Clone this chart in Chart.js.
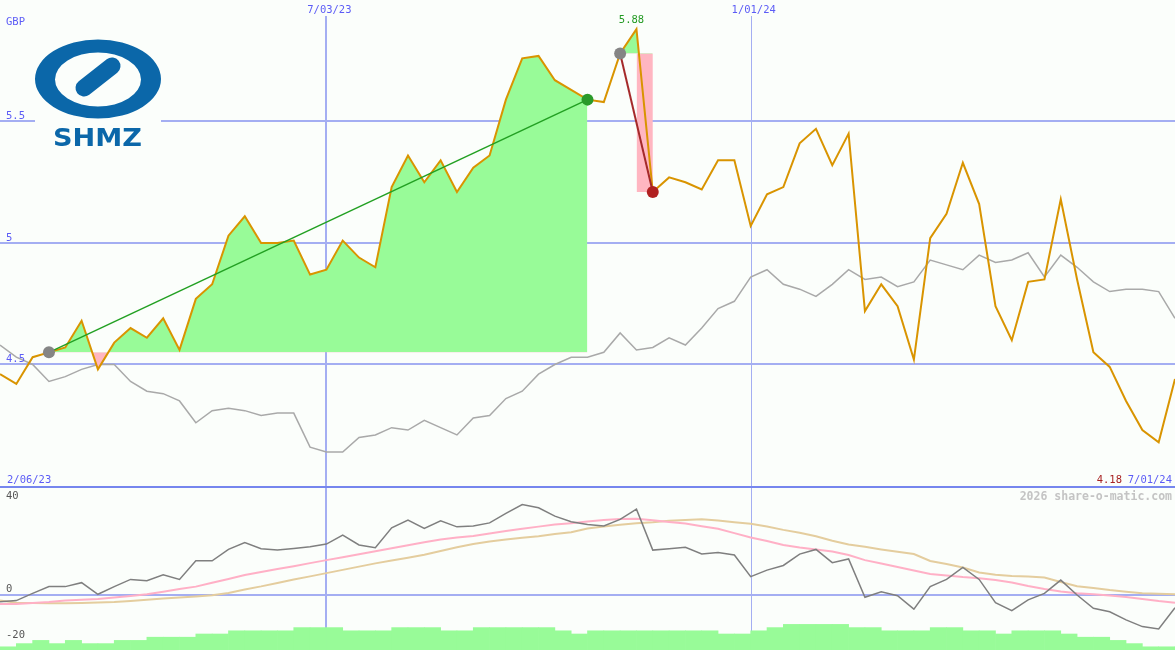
<!DOCTYPE html>
<html>
<head>
<meta charset="utf-8">
<script src="https://cdn.jsdelivr.net/npm/chart.js@4.4.1/dist/chart.umd.min.js"></script>
<style>
  html, body { margin: 0; padding: 0; background: #fbfefb; }
  #wrap { width: 1175px; height: 650px; }
</style>
</head>
<body>
<div id="wrap"><canvas id="myChart" width="1175" height="650"></canvas></div>
<script>
// weekly closes, GBP
const price = [4.46, 4.42, 4.53, 4.55, 4.57, 4.68, 4.48, 4.59, 4.65, 4.61,
	4.69, 4.56, 4.77, 4.83, 5.03, 5.11, 5.00, 5.00, 5.01, 4.87,
	4.89, 5.01, 4.94, 4.90, 5.23, 5.36, 5.25, 5.34, 5.21, 5.31,
	5.36, 5.59, 5.76, 5.77, 5.67, 5.63, 5.59, 5.58, 5.78, 5.88,
	5.21, 5.27, 5.25, 5.22, 5.34, 5.34, 5.07, 5.20, 5.23, 5.41,
	5.47, 5.32, 5.45, 4.72, 4.83, 4.74, 4.52, 5.02, 5.12, 5.33,
	5.16, 4.74, 4.60, 4.84, 4.85, 5.18, 4.85, 4.55, 4.49, 4.35,
	4.23, 4.18, 4.44]

// market relative line (grey)
const relative = [4.58, 4.53, 4.50, 4.43, 4.45, 4.48, 4.50, 4.50, 4.43, 4.39,
	4.38, 4.35, 4.26, 4.31, 4.32, 4.31, 4.29, 4.30, 4.30, 4.16,
	4.14, 4.14, 4.20, 4.21, 4.24, 4.23, 4.27, 4.24, 4.21, 4.28,
	4.29, 4.36, 4.39, 4.46, 4.50, 4.53, 4.53, 4.55, 4.63, 4.56,
	4.57, 4.61, 4.58, 4.65, 4.73, 4.76, 4.86, 4.89, 4.83, 4.81,
	4.78, 4.83, 4.89, 4.85, 4.86, 4.82, 4.84, 4.93, 4.91, 4.89,
	4.95, 4.92, 4.93, 4.96, 4.86, 4.95, 4.90, 4.84, 4.80, 4.81,
	4.81, 4.80, 4.69]

// lower panel
const momentum = [-2.9, -2.4, 0.7, 3.6, 3.6, 5.3, 0.3, 3.6, 6.7, 6.1,
	8.7, 6.7, 14.7, 14.7, 19.6, 22.6, 19.9, 19.3, 20.0, 20.7,
	21.9, 25.8, 21.5, 20.3, 28.9, 32.2, 28.6, 31.9, 29.3, 29.7,
	31.0, 35.1, 38.9, 37.5, 33.9, 31.5, 30.3, 29.7, 32.5, 36.9,
	19.3, 19.9, 20.5, 17.6, 18.3, 17.2, 7.9, 10.7, 12.7, 17.6,
	19.6, 13.9, 15.5, -1.0, 1.4, -0.3, -6.1, 3.6, 6.7, 11.9,
	6.7, -3.3, -6.7, -2.1, 0.7, 6.4, 0.0, -5.7, -7.2, -10.7,
	-13.6, -14.6, -5.5]

const avgFast = [-3.9, -3.9, -3.4, -3.0, -2.4, -2.0, -1.7, -1.1, -0.4, 0.3,
	1.4, 2.6, 3.6, 5.3, 6.9, 8.6, 9.9, 11.2, 12.4, 13.7,
	15.0, 16.2, 17.5, 18.8, 20.1, 21.4, 22.7, 23.9, 24.7, 25.4,
	26.4, 27.5, 28.5, 29.4, 30.3, 30.9, 31.6, 32.2, 32.7, 32.8,
	32.1, 31.4, 30.7, 29.6, 28.5, 26.6, 24.7, 23.2, 21.5, 20.4,
	19.6, 18.7, 17.2, 15.0, 13.5, 12.0, 10.5, 9.0, 8.4, 7.7,
	7.2, 6.4, 5.4, 3.9, 2.6, 1.5, 0.7, 0.3, -0.2, -0.9,
	-1.7, -2.6, -3.3]

const avgSlow = [-2.4, -3.3, -3.4, -3.5, -3.5, -3.4, -3.2, -3.0, -2.6, -2.1,
	-1.5, -1.1, -0.6, -0.1, 0.9, 2.4, 3.7, 5.2, 6.7, 8.0,
	9.4, 10.8, 12.2, 13.6, 14.8, 16.0, 17.3, 18.9, 20.5, 21.9,
	23.0, 23.9, 24.6, 25.3, 26.2, 27.0, 28.6, 29.5, 30.2, 30.9,
	31.3, 31.9, 32.3, 32.6, 32.0, 31.3, 30.6, 29.5, 28.0, 26.8,
	25.3, 23.3, 21.7, 20.7, 19.6, 18.6, 17.6, 14.6, 13.3, 11.8,
	9.7, 8.7, 8.2, 8.0, 7.5, 5.6, 3.8, 3.0, 2.1, 1.4,
	0.7, 0.5, 0.3]

// volume, relative units
const volume = [1, 2, 3, 2, 3, 2, 2, 3, 3, 4,
	4, 4, 5, 5, 6, 6, 6, 6, 7, 7,
	7, 6, 6, 6, 7, 7, 7, 6, 6, 7,
	7, 7, 7, 7, 6, 5, 6, 6, 6, 6,
	6, 6, 6, 6, 5, 5, 6, 7, 8, 8,
	8, 8, 7, 7, 6, 6, 6, 7, 7, 6,
	6, 5, 6, 6, 6, 5, 4, 4, 3, 2,
	1, 1, 1]

const priceTicks = [4.5, 5, 5.5]
const lowerTicks = [40, 0, -20]
const dateTickAt = [20, 46]
const dateTicks = ['7/03/23', '1/01/24']
const firstDate = '2/06/23'
const lastDate = '7/01/24'
const buyAt = [3, 38]
const sellAt = [36, 40]

const bg = '#fbfefb'
const gridBlue = '#a4aef2'
const textBlue = '#5c5cf6'
const logoBlue = '#0b67a9'
const green = '#98fb98'
const pink = '#ffb6c1'
const mono = '"DejaVu Sans Mono", monospace'

const pts = (arr, from = 0) => arr.map((v, i) => ({ x: i + from, y: v }))

function holding(a, b) {
	return pts(price.slice(a, b + 1), a)
}

function drawLogo(ctx) {
	ctx.save()
	ctx.fillStyle = bg
	ctx.fillRect(35, 30, 126, 122)
	ctx.fillStyle = logoBlue
	ctx.beginPath()
	ctx.ellipse(98, 79, 63, 39.5, 0, 0, Math.PI * 2)
	ctx.ellipse(98, 79.5, 43, 27, 0, 0, Math.PI * 2, true)
	ctx.fill('evenodd')
	ctx.strokeStyle = logoBlue
	ctx.lineWidth = 17
	ctx.lineCap = 'round'
	ctx.beginPath()
	ctx.moveTo(84, 88)
	ctx.lineTo(112, 66)
	ctx.stroke()
	ctx.font = 'bold 25px "DejaVu Sans"'
	const w = ctx.measureText('SHMZ').width
	ctx.translate(53, 146)
	ctx.scale(89 / w, 1)
	ctx.fillText('SHMZ', 0, 0)
	ctx.restore()
}

const panels = {
	id: 'panels',
	beforeDraw(chart) {
		const ctx = chart.ctx
		ctx.save()
		ctx.fillStyle = bg
		ctx.fillRect(0, 0, chart.width, chart.height)
		ctx.restore()
	},
	beforeDatasetsDraw(chart) {
		const { ctx, scales } = chart
		const { x, yP, yB } = scales
		ctx.save()
		ctx.strokeStyle = gridBlue
		ctx.lineWidth = 2
		priceTicks.forEach(v => {
			const y = Math.round(yP.getPixelForValue(v))
			ctx.beginPath()
			ctx.moveTo(0, y)
			ctx.lineTo(chart.width, y)
			ctx.stroke()
		})
		let y0 = Math.round(yB.getPixelForValue(0))
		ctx.beginPath()
		ctx.moveTo(0, y0)
		ctx.lineTo(chart.width, y0)
		ctx.stroke()

		dateTickAt.forEach((d, k) => {
			const px = Math.round(x.getPixelForValue(d)) + (k === 0 ? 0 : 0.5)
			ctx.lineWidth = k === 0 ? 2 : 1
			ctx.beginPath()
			ctx.moveTo(px, 16)
			ctx.lineTo(px, chart.height)
			ctx.stroke()
		})

		ctx.strokeStyle = '#7686ee'
		ctx.lineWidth = 2
		const yb = Math.round(yP.getPixelForValue(4)) + 1
		ctx.beginPath()
		ctx.moveTo(0, yb)
		ctx.lineTo(chart.width, yb)
		ctx.stroke()
		ctx.restore()

		drawLogo(ctx)
	},
	afterDatasetsDraw(chart) {
		const { ctx, scales } = chart
		const { x, yP, yB } = scales
		ctx.save()
		ctx.font = '10.5px ' + mono
		ctx.textBaseline = 'alphabetic'

		ctx.fillStyle = textBlue
		ctx.textAlign = 'left'
		ctx.fillText('GBP', 6, 25)
		priceTicks.forEach(v => {
			ctx.fillText(String(v), 6, Math.round(yP.getPixelForValue(v)) - 2)
		})
		ctx.textAlign = 'center'
		dateTickAt.forEach((d, k) => {
			ctx.fillText(dateTicks[k], x.getPixelForValue(d) + 3, 13)
		})
		ctx.textAlign = 'left'
		ctx.fillText(firstDate, 7, 483)
		ctx.textAlign = 'right'
		ctx.fillText(lastDate, 1172, 483)

		const hi = Math.max(...price)
		const lo = Math.min(...price)
		ctx.fillStyle = '#a82222'
		ctx.fillText(lo.toFixed(2), 1122, 483)
		ctx.fillStyle = '#229a22'
		ctx.textAlign = 'center'
		const iHi = price.indexOf(hi)
		ctx.fillText(hi.toFixed(2), x.getPixelForValue(iHi) - 5, yP.getPixelForValue(hi) - 6)

		ctx.fillStyle = '#555555'
		ctx.textAlign = 'left'
		lowerTicks.forEach(v => {
			let y = Math.round(yB.getPixelForValue(v)) - 3
			if (y > 646) y = 646
			ctx.fillText(String(v), 6, y)
		})

		ctx.fillStyle = '#c4c4c4'
		ctx.font = 'bold 11.5px ' + mono
		ctx.textAlign = 'right'
		ctx.fillText('2026 share-o-matic.com', 1172, 500)
		ctx.restore()
	},
}

const line = (data, color, width, axis, order) => ({
	type: 'line',
	data,
	borderColor: color,
	borderWidth: width,
	pointRadius: 0,
	tension: 0,
	fill: false,
	yAxisID: axis,
	order,
})

const area = (data, base, order) => ({
	...line(data, 'rgba(0,0,0,0)', 0, 'yP', order),
	fill: { target: { value: base }, above: green, below: pink },
})

// last week of the second holding: loss block down to the sell price
const lossWeek = [
	{ x: sellAt[1] - 1, y: price[sellAt[1]] },
	{ x: sellAt[1], y: price[sellAt[1]] },
]

const ctx = document.getElementById('myChart').getContext('2d')
const myChart = new Chart(ctx, {
	type: 'line',
	data: {
		datasets: [
			{
				type: 'line',
				data: [buyAt[0], sellAt[0], buyAt[1], sellAt[1]].map(i => ({ x: i, y: price[i] })),
				showLine: false,
				pointRadius: 6,
				pointHoverRadius: 6,
				pointBorderWidth: 0,
				pointBackgroundColor: ['#858585', '#2a9a2a', '#858585', '#b02020'],
				yAxisID: 'yP',
				order: 0,
			},
			line([{ x: buyAt[1], y: price[buyAt[1]] }, { x: sellAt[1], y: price[sellAt[1]] }], '#a52a2a', 2, 'yP', 1),
			line([{ x: buyAt[0], y: price[buyAt[0]] }, { x: sellAt[0], y: price[sellAt[0]] }], '#22a022', 1.5, 'yP', 2),
			line(pts(price), '#d99400', 2, 'yP', 3),
			area(holding(buyAt[0], sellAt[0]), price[buyAt[0]], 4),
			area(holding(buyAt[1], sellAt[1]), price[buyAt[1]], 4),
			area(lossWeek, price[buyAt[1]], 4),
			line(pts(relative), '#a9a9a9', 1.5, 'yP', 5),
			line(pts(momentum), '#7f7f7f', 1.5, 'yB', 6),
			line(pts(avgFast), '#ffb0c6', 2, 'yB', 7),
			line(pts(avgSlow), '#e4cd9e', 2, 'yB', 8),
			{
				type: 'bar',
				data: volume.map((v, i) => ({ x: i + 0.5, y: v })),
				backgroundColor: green,
				borderWidth: 0,
				barPercentage: 1,
				categoryPercentage: 1,
				grouped: false,
				yAxisID: 'yV',
				order: 9,
			},
		],
	},
	options: {
		responsive: false,
		animation: false,
		layout: { padding: 0, autoPadding: false },
		plugins: {
			legend: { display: false },
			tooltip: { enabled: false },
		},
		scales: {
			x: { type: 'linear', min: 0, max: 72, offset: false, display: false },
			yP: { type: 'linear', min: 3.325, max: 6.0, display: false },
			yB: { type: 'linear', min: -23.66, max: 255.9, display: false },
			yV: { type: 'linear', min: 0, max: 203.1, display: false },
		},
	},
	plugins: [panels],
})
</script>
</body>
</html>
